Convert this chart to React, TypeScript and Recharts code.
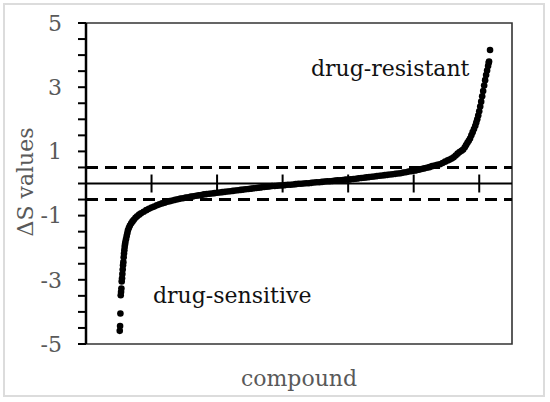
import React from "react";
import {
  ScatterChart,
  Scatter,
  XAxis,
  YAxis,
  ReferenceLine,
  ReferenceArea,
  Customized,
} from "recharts";

// compound rank (sorted by ΔS)
const compoundRank = [
  103, 104, 105, 106, 107, 108, 109, 110, 111, 112, 113, 114, 115, 116, 117, 118, 119, 120,
  122, 124, 126, 128, 131, 134, 138, 142, 146, 151, 156, 162, 168, 176, 184, 192, 200, 208,
  216, 224, 232, 240, 248, 256, 264, 272, 280, 288, 296, 304, 312, 320, 328, 336, 344, 352,
  360, 368, 376, 384, 392, 400, 408, 416, 424, 432, 440, 448, 456, 464, 472, 480, 488, 496,
  504, 512, 520, 528, 536, 544, 552, 560, 568, 576, 584, 592, 600, 608, 616, 624, 632, 640,
  648, 656, 664, 672, 680, 688, 696, 704, 712, 720, 728, 736, 744, 752, 760, 768, 776, 784,
  792, 800, 808, 816, 824, 832, 840, 848, 856, 864, 872, 880, 888, 896, 904, 912, 920, 928,
  936, 944, 952, 960, 968, 976, 984, 992, 1000, 1008, 1016, 1024, 1032, 1040, 1048, 1056,
  1064, 1072, 1080, 1088, 1096, 1104, 1110, 1116, 1122, 1128, 1134, 1140, 1146, 1151, 1156,
  1160, 1164, 1168, 1172, 1176, 1180, 1184, 1188, 1191, 1194, 1197, 1200, 1203, 1206, 1209,
  1212, 1215, 1218, 1221, 1224, 1227, 1229, 1230, 1233,
];

// ΔS value of each compound
const deltaS = [
  -4.59, -4.44, -4.05, -3.48, -3.38, -3.27, -3.05, -2.95, -2.82, -2.68, -2.55, -2.45, -2.3, -2.18, -2.08, -1.98, -1.9, -1.83,
  -1.74, -1.64, -1.55, -1.46, -1.38, -1.31, -1.24, -1.18, -1.13, -1.07, -1.02, -0.97, -0.93, -0.88, -0.83, -0.79, -0.75, -0.72,
  -0.68, -0.65, -0.62, -0.6, -0.57, -0.55, -0.53, -0.51, -0.49, -0.47, -0.46, -0.44, -0.43, -0.41, -0.4, -0.38, -0.37, -0.36,
  -0.34, -0.33, -0.32, -0.31, -0.3, -0.29, -0.28, -0.27, -0.26, -0.25, -0.24, -0.23, -0.22, -0.21, -0.2, -0.19, -0.18, -0.17,
  -0.16, -0.15, -0.14, -0.13, -0.12, -0.11, -0.1, -0.09, -0.08, -0.08, -0.07, -0.06, -0.06, -0.05, -0.04, -0.04, -0.03, -0.02,
  -0.01, -0.01, 0, 0.01, 0.01, 0.02, 0.03, 0.04, 0.04, 0.05, 0.06, 0.07, 0.07, 0.08, 0.09, 0.1, 0.1, 0.11,
  0.12, 0.12, 0.13, 0.14, 0.15, 0.16, 0.17, 0.18, 0.19, 0.2, 0.21, 0.22, 0.23, 0.24, 0.25, 0.26, 0.27, 0.28,
  0.29, 0.3, 0.31, 0.32, 0.34, 0.35, 0.37, 0.38, 0.4, 0.41, 0.43, 0.45, 0.47, 0.49, 0.51, 0.54,
  0.56, 0.58, 0.6, 0.64, 0.68, 0.72, 0.75, 0.78, 0.82, 0.87, 0.93, 0.98, 1.02, 1.06, 1.13,
  1.2, 1.27, 1.33, 1.4, 1.5, 1.6, 1.7, 1.8, 1.9, 2.0, 2.12, 2.25, 2.4, 2.55, 2.72,
  2.88, 3.05, 3.22, 3.38, 3.52, 3.66, 3.76, 3.8, 4.16,
];

const yTicks = [-5, -4.5, -4, -3.5, -3, -2.5, -2, -1.5, -1, -0.5, 0, 0.5, 1, 1.5, 2, 2.5, 3, 3.5, 4, 4.5, 5];
const yLabelTicks = [-5, -3, -1, 1, 3, 5];
const xTicks = [200, 400, 600, 800, 1000, 1200];
const thresholds = [0.5, -0.5];

const data = compoundRank.map((x, i) => ({ x, y: deltaS[i] }));

const FONT = "'DejaVu Serif', serif";
const GREY = "#595959";

const Dot = (props: any) => <circle cx={props.cx} cy={props.cy} r={3.3} fill="#000" />;

const Texts = () => (
  <g fontFamily={FONT}>
    <text x={311} y={76} fontSize={22} fill="#111">drug-resistant</text>
    <text x={153} y={302.5} fontSize={22} fill="#111">drug-sensitive</text>
    <text x={299} y={386} fontSize={22} fill={GREY} textAnchor="middle">compound</text>
    <text x={33} y={182} fontSize={22} fill={GREY} textAnchor="middle" transform="rotate(-90 33 182)">ΔS values</text>
  </g>
);

export default function App() {
  return (
    <div style={{ position: "absolute", left: 0, top: 0, width: 550, height: 402, background: "#fff" }}>
      <ScatterChart
        width={550}
        height={402}
        margin={{ top: 23, right: 38, bottom: 58, left: 46 }}
      >
        <XAxis type="number" dataKey="x" domain={[0, 1300]} hide />
        <YAxis
          type="number"
          dataKey="y"
          domain={[-5, 5]}
          ticks={yTicks}
          interval={0}
          width={40}
          tickSize={8}
          tickMargin={16}
          axisLine={{ stroke: "#000", strokeWidth: 2.5 }}
          tickLine={{ stroke: "#000", strokeWidth: 2 }}
          tick={{ fill: GREY, fontSize: 22, fontFamily: FONT }}
          tickFormatter={(v: number) => (yLabelTicks.includes(v) ? String(v) : "")}
        />
        <ReferenceArea
          x1={0}
          x2={1300}
          y1={-5}
          y2={5}
          fill="none"
          stroke="#333"
          strokeWidth={1.6}
          ifOverflow="visible"
        />
        {thresholds.map((t) => (
          <ReferenceLine key={t} y={t} stroke="#000" strokeWidth={3} strokeDasharray="12 7" />
        ))}
        <ReferenceLine y={0} stroke="#000" strokeWidth={2} />
        {xTicks.map((t) => (
          <ReferenceLine
            key={"t" + t}
            segment={[
              { x: t, y: -0.28 },
              { x: t, y: 0.28 },
            ]}
            stroke="#000"
            strokeWidth={2}
          />
        ))}
        <Scatter data={data} shape={Dot} isAnimationActive={false} />
        <Customized component={Texts} />
      </ScatterChart>
      <div
        style={{
          position: "absolute",
          left: 3,
          top: 3,
          width: 538,
          height: 390,
          border: "2px solid #dcdcdc",
          pointerEvents: "none",
        }}
      />
    </div>
  );
}
